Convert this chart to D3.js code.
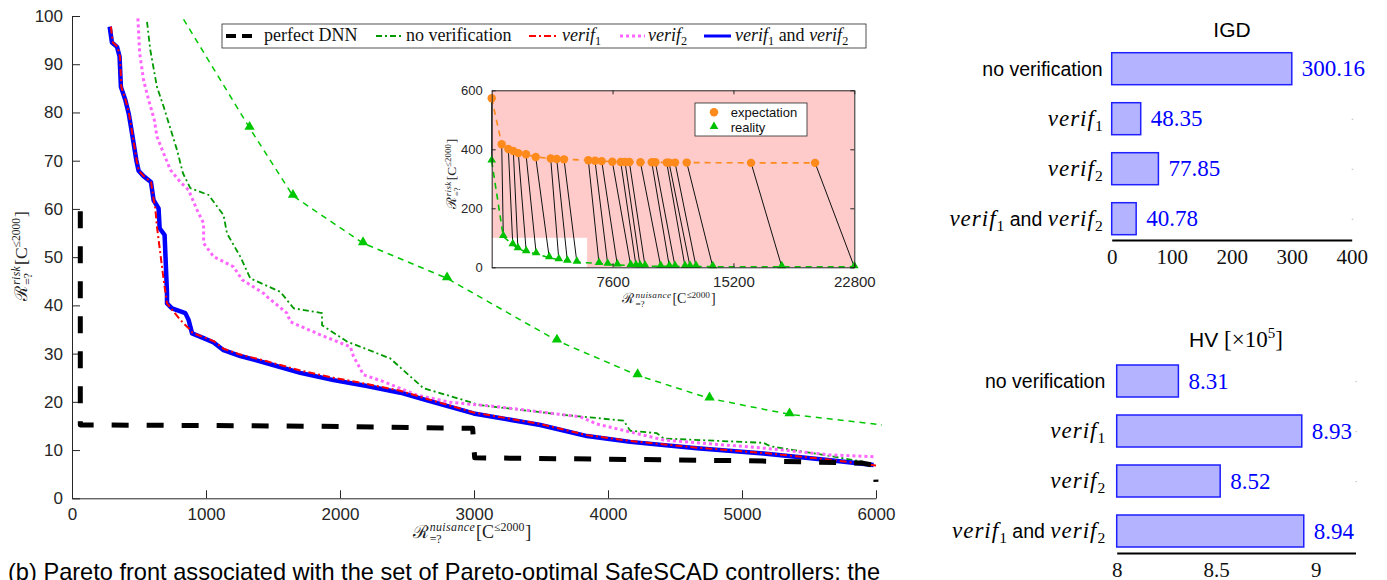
<!DOCTYPE html>
<html>
<head>
<meta charset="utf-8">
<script src="https://cdn.jsdelivr.net/npm/d3@7"></script>
<style>
body { margin: 0; background: #fff; }
</style>
</head>
<body>
<script>
// ---- data ----
const perfectDNN = [[62,59.5],[62,15.2],[1000,15.1],[2000,14.9],[2990,14.5],[3005,8.4],[4000,8.1],[5000,7.8],[5900,7.3],[5990,6.8],[6000,3.4]];
const noVerification = [[560,98.8],[584,93.0],[634,85.3],[684,81.2],[784,72.2],[828,67.4],[883,64.3],[1019,62.9],[1131,58.7],[1157,54.9],[1256,50.1],[1331,45.6],[1555,42.8],[1654,39.4],[1866,38.4],[1866,35.9],[2052,32.5],[2375,29.0],[2624,22.8],[2823,21.2],[3047,19.3],[3669,17.3],[4117,16.1],[4166,14.0],[4365,13.5],[4415,12.4],[5161,11.5],[5211,10.8],[5609,9.0],[5900,7.6]];
const verif1 = [[290,97.8],[305,94.5],[340,93.6],[358,91.6],[368,85.3],[400,82.6],[425,79.8],[442,77.0],[462,73.6],[482,70.1],[499,67.9],[536,66.8],[590,65.6],[609,62.0],[621,60.3],[634,56.3],[684,45.3],[709,40.4],[808,37.0],[883,34.9],[900,34.3],[982,33.4],[1057,32.6],[1131,31.0],[1256,29.8],[1455,28.4],[1704,26.5],[1952,25.0],[2201,23.7],[2450,22.3],[2650,20.6],[2997,17.8],[3495,15.4],[3843,13.1],[4166,11.9],[4664,10.5],[5161,9.4],[5659,8.0],[6000,6.8]];
const verif2 = [[492,99.5],[505,92.3],[534,86.7],[572,82.6],[614,78.5],[634,75.0],[684,71.5],[734,68.1],[808,65.6],[870,63.9],[933,59.8],[982,57.0],[982,52.9],[1057,50.1],[1206,48.0],[1270,45.3],[1430,42.5],[1455,41.8],[1604,38.4],[1629,36.6],[1853,33.9],[2077,31.4],[2101,29.4],[2176,25.6],[2325,24.2],[2574,21.4],[2823,19.9],[3172,19.0],[3793,16.9],[3918,15.4],[4415,12.1],[5161,10.4],[5659,9.0],[6000,8.6]];
const verifBoth = [[281,97.8],[298,94.5],[336,93.6],[355,91.6],[365,85.3],[398,82.6],[423,79.8],[440,77.0],[460,73.6],[480,70.1],[497,67.9],[534,66.8],[589,65.6],[609,61.8],[646,60.1],[654,56.0],[691,54.6],[709,42.5],[709,40.4],[746,39.4],[846,38.4],[870,37.0],[896,34.2],[982,33.2],[1057,32.3],[1131,30.7],[1256,29.5],[1455,28.0],[1704,26.0],[1952,24.5],[2201,23.3],[2450,21.9],[2650,20.3],[2997,17.6],[3495,15.2],[3843,12.9],[4166,11.7],[4664,10.4],[5161,9.3],[5659,7.9],[5982,6.9]];

const expectation = [[0,573],[629,417],[1046,401],[1359,394],[1675,387],[2157,383],[2767,374],[3711,369],[4088,367],[4547,366],[6075,363],[6497,361],[6918,360],[7585,358],[8113,357],[8384,357],[8654,357],[9350,356],[10063,356],[10290,356],[11006,355],[11150,355],[11528,355],[12264,355],[16308,354],[20333,354]];
const reality = [[0,360],[730,104],[1325,76.8],[1649,62.7],[2172,52.9],[2799,45.6],[3619,32.7],[4221,25.5],[4758,20.7],[5355,17.4],[6748,13],[7296,10],[7900,8],[8742,6],[9075,5],[9330,4.5],[9642,4],[10629,3],[11170,3],[11528,3],[12157,2.5],[12472,2.5],[12849,2.5],[13899,2],[18239,2],[22800,1.5]];

const categories = ["no verification", "verif1", "verif2", "verif1 and verif2"];
const igdValues = [300.16, 48.35, 77.85, 40.78];
const hvValues = [8.31, 8.93, 8.52, 8.94];

const mainXTicks = [0, 1000, 2000, 3000, 4000, 5000, 6000];
const mainYTicks = [0, 10, 20, 30, 40, 50, 60, 70, 80, 90, 100];
const insetXTicks = [7600, 15200, 22800];
const insetYTicks = [0, 200, 400, 600];
const igdTicks = [0, 100, 200, 300, 400];
const hvTicks = [8, 8.5, 9];

const caption = "(b) Pareto front associated with the set of Pareto-optimal SafeSCAD controllers; the";

// ---- canvas ----
const svg = d3.select("body").append("svg")
    .attr("width", 1387)
    .attr("height", 580)
    .attr("font-family", "Liberation Sans, Arial, sans-serif");

const axisColor = "#262626";
const plain = d => String(d);

// math label like R^{sup}_{=?}[C^{<=2000}]
function mathLabel(parent, size, sup, cx, cy, rot) {
    const g = parent.append("g");
    const small = size * 0.66;
    let x = 0;
    const r = g.append("text").attr("x", 0).attr("y", 0)
        .attr("font-family", "DejaVu Serif").attr("font-size", size).text("\u211B");
    x += r.node().getComputedTextLength() + 1;
    const a = g.append("text").attr("x", x).attr("y", -size * 0.38)
        .attr("font-family", "Liberation Serif").attr("font-style", "italic")
        .attr("letter-spacing", 0.4)
        .attr("font-size", small).text(sup);
    const b = g.append("text").attr("x", x).attr("y", size * 0.3)
        .attr("font-family", "Liberation Serif").attr("font-size", small).text("=?");
    x += Math.max(a.node().getComputedTextLength(), b.node().getComputedTextLength()) + 1;
    const c = g.append("text").attr("x", x).attr("y", 0)
        .attr("font-family", "Liberation Serif").attr("font-size", size).text("[C");
    x += c.node().getComputedTextLength();
    const d = g.append("text").attr("x", x).attr("y", -size * 0.38)
        .attr("font-family", "Liberation Serif").attr("font-size", small).text("\u22642000");
    x += d.node().getComputedTextLength() + 1;
    const e = g.append("text").attr("x", x).attr("y", 0)
        .attr("font-family", "Liberation Serif").attr("font-size", size).text("]");
    x += e.node().getComputedTextLength();
    g.selectAll("text").attr("fill", "#222");
    g.attr("transform", "translate(" + cx + "," + cy + ") rotate(" + rot + ") translate(" + (-x / 2) + ",0)");
}

// ================= main chart =================
const mainX = d3.scaleLinear().domain([0, 6000]).range([72, 876]);
const mainY = d3.scaleLinear().domain([0, 100]).range([498.3, 16]);

svg.append("clipPath").attr("id", "mainClip")
  .append("rect").attr("x", 60).attr("y", 16).attr("width", 822).attr("height", 483);

const xAxisMain = svg.append("g")
    .attr("transform", "translate(0," + mainY(0) + ")")
    .call(d3.axisBottom(mainX).tickValues(mainXTicks).tickFormat(plain).tickSize(-8).tickSizeOuter(0).tickPadding(10));
const yAxisMain = svg.append("g")
    .attr("transform", "translate(" + mainX(0) + ",0)")
    .call(d3.axisLeft(mainY).tickValues(mainYTicks).tickFormat(plain).tickSize(-8).tickSizeOuter(0).tickPadding(9));
[xAxisMain, yAxisMain].forEach(a => {
    a.attr("font-size", 17).attr("font-family", "Liberation Sans");
    a.selectAll("path, line").attr("stroke", axisColor);
    a.selectAll("text").attr("fill", axisColor);
});

const line = d3.line().x(d => mainX(d[0])).y(d => mainY(d[1]));
const plot = svg.append("g").attr("clip-path", "url(#mainClip)");

const seriesStyles = [
    {name: "reality", data: reality, color: "#00c800", width: 1.5, dash: "6,5"},
    {name: "no verification", data: noVerification, color: "#009a00", width: 1.8, dash: "6,3,2,3"},
    {name: "verif2", data: verif2, color: "#ff66ff", width: 3, dash: "3,3"},
    {name: "verif1 and verif2", data: verifBoth, color: "#0000ff", width: 4.5, dash: null},
    {name: "verif1", data: verif1, color: "#ff0000", width: 2, dash: "7,3,2,3"},
    {name: "perfect DNN", data: perfectDNN, color: "#000000", width: 5, dash: "17,18"}
];

seriesStyles.forEach(s => {
    plot.append("path").datum(s.data)
        .attr("fill", "none")
        .attr("stroke", s.color)
        .attr("stroke-width", s.width)
        .attr("stroke-dasharray", s.dash)
        .attr("stroke-linejoin", "round")
        .attr("d", line);
});

// triangles of the "reality" curve inside the main range
plot.selectAll(".tri").data(reality.filter(d => d[0] <= 6000 && d[1] <= 100))
  .enter().append("path")
    .attr("transform", d => "translate(" + mainX(d[0]) + "," + (mainY(d[1]) - 1) + ")")
    .attr("d", d3.symbol(d3.symbolTriangle, 46))
    .attr("fill", "#00c800");

// axis labels
mathLabel(svg, 18, "nuisance", 472, 538, 0);
mathLabel(svg, 17.5, "risk", 27, 256, -90);

// legend
const legend = svg.append("g");
legend.append("rect").attr("x", 222).attr("y", 24).attr("width", 644).attr("height", 24)
    .attr("fill", "#fff").attr("stroke", axisColor).attr("stroke-width", 0.8);

const legendItems = [
    {style: seriesStyles[5], x0: 226, x1: 252, tx: 264, dash: "10,6", width: 4},
    {style: seriesStyles[1], x0: 376, x1: 404, tx: 406},
    {style: seriesStyles[4], x0: 529, x1: 557, tx: 562},
    {style: seriesStyles[2], x0: 620, x1: 645, tx: 648},
    {style: seriesStyles[3], x0: 704, x1: 731, tx: 735, width: 3}
];

// writes "verif1 and verif2" style names with italic and subscripts
function richName(text, name, opts) {
    const parts = name.split(" and ");
    const sub = opts.sub;
    let shifted = false;
    parts.forEach((p, i) => {
        if (i > 0) {
            text.append("tspan").attr("font-family", opts.andFont).attr("font-style", "normal")
                .attr("font-size", opts.andSize || opts.size)
                .attr("dy", shifted ? -sub : 0).text(" and ");
            shifted = false;
        }
        const m = p.match(/^verif(\d)$/);
        if (m) {
            text.append("tspan").attr("font-family", "Liberation Serif").attr("font-style", "italic")
                .attr("font-size", opts.size).attr("letter-spacing", opts.spacing || 0)
                .attr("dy", shifted ? -sub : 0).text("verif");
            text.append("tspan").attr("font-family", "Liberation Serif").attr("font-style", "normal")
                .attr("font-size", opts.size * 0.68).attr("dy", sub).text(m[1]);
            shifted = true;
        } else {
            text.append("tspan").attr("font-family", opts.plainFont).attr("font-size", opts.plainSize || opts.size).text(p);
        }
    });
}

legendItems.forEach(it => {
    legend.append("line")
        .attr("x1", it.x0).attr("x2", it.x1).attr("y1", 36).attr("y2", 36)
        .attr("stroke", it.style.color)
        .attr("stroke-width", it.width || it.style.width)
        .attr("stroke-dasharray", it.dash || it.style.dash);
    const t = legend.append("text").attr("x", it.tx).attr("y", 41).attr("fill", "#111");
    richName(t, it.style.name, {size: 18, sub: 4, andFont: "Liberation Serif", plainFont: "Liberation Serif"});
});

// ================= inset =================
const insetX = d3.scaleLinear().domain([0, 22800]).range([491.7, 854.3]);
const insetY = d3.scaleLinear().domain([0, 600]).range([267.3, 90.3]);
const inset = svg.append("g");

inset.append("rect")
    .attr("x", insetX(0)).attr("y", insetY(600))
    .attr("width", insetX(22800) - insetX(0)).attr("height", insetY(0) - insetY(600))
    .attr("fill", "#ffcaca");
inset.append("rect")
    .attr("x", insetX(0)).attr("y", insetY(100))
    .attr("width", insetX(6000) - insetX(0)).attr("height", insetY(0) - insetY(100))
    .attr("fill", "#fff");

// links expectation -> reality
inset.selectAll(".link").data(expectation)
  .enter().append("line")
    .attr("x1", d => insetX(d[0])).attr("y1", d => insetY(d[1]))
    .attr("x2", (d, i) => insetX(reality[i][0])).attr("y2", (d, i) => insetY(reality[i][1]))
    .attr("stroke", "#111").attr("stroke-width", 1);

const insetLine = d3.line().x(d => insetX(d[0])).y(d => insetY(d[1]));
inset.append("path").datum(expectation)
    .attr("fill", "none").attr("stroke", "#ff8a1c").attr("stroke-width", 1.6)
    .attr("stroke-dasharray", "6,5").attr("d", insetLine);
inset.append("path").datum(reality)
    .attr("fill", "none").attr("stroke", "#00c000").attr("stroke-width", 1.6)
    .attr("stroke-dasharray", "6,5").attr("d", insetLine);

inset.selectAll(".dot").data(expectation)
  .enter().append("circle")
    .attr("cx", d => insetX(d[0])).attr("cy", d => insetY(d[1])).attr("r", 4.2)
    .attr("fill", "#ff8a1c");
inset.selectAll(".rtri").data(reality)
  .enter().append("path")
    .attr("transform", d => "translate(" + insetX(d[0]) + "," + (insetY(d[1]) - 1) + ")")
    .attr("d", d3.symbol(d3.symbolTriangle, 32))
    .attr("fill", "#00c000");

// inset frame and ticks
const ixb = inset.append("g").attr("transform", "translate(0," + insetY(0) + ")")
    .call(d3.axisBottom(insetX).tickValues(insetXTicks).tickFormat(plain).tickSize(-4).tickSizeOuter(0).tickPadding(9));
const ixt = inset.append("g").attr("transform", "translate(0," + insetY(600) + ")")
    .call(d3.axisTop(insetX).tickValues(insetXTicks).tickSize(-4).tickSizeOuter(0).tickFormat(""));
const iyl = inset.append("g").attr("transform", "translate(" + insetX(0) + ",0)")
    .call(d3.axisLeft(insetY).tickValues(insetYTicks).tickFormat(plain).tickSize(-4).tickSizeOuter(0).tickPadding(9));
const iyr = inset.append("g").attr("transform", "translate(" + insetX(22800) + ",0)")
    .call(d3.axisRight(insetY).tickValues(insetYTicks).tickSize(-4).tickSizeOuter(0).tickFormat(""));
[ixb, ixt, iyl, iyr].forEach(a => {
    a.attr("font-family", "Liberation Sans");
    a.selectAll("path, line").attr("stroke", axisColor);
    a.selectAll("text").attr("fill", axisColor);
});
ixb.attr("font-size", 15);
iyl.attr("font-size", 13);

mathLabel(inset, 14, "nuisance", 669, 303, 0);
mathLabel(inset, 13.5, "risk", 456, 174, -90);

// inset legend
inset.append("rect").attr("x", 695).attr("y", 103).attr("width", 112).attr("height", 33)
    .attr("fill", "#fff").attr("stroke", axisColor).attr("stroke-width", 0.8);
inset.append("circle").attr("cx", 714).attr("cy", 112.3).attr("r", 4.2).attr("fill", "#ff8a1c");
inset.append("path").attr("transform", "translate(714,126.5)")
    .attr("d", d3.symbol(d3.symbolTriangle, 32)).attr("fill", "#00c000");
inset.append("text").attr("x", 730.7).attr("y", 116.8).attr("font-size", 13).attr("fill", "#111").text("expectation");
inset.append("text").attr("x", 730.7).attr("y", 131.8).attr("font-size", 13).attr("fill", "#111").text("reality");

// ================= bar charts =================
function barChart(values, xScale, bandRange, axisY, ticks, labelRight, title) {
    const g = svg.append("g");
    const y = d3.scaleBand().domain(categories).range(bandRange).paddingInner(0.36).paddingOuter(0.18);
    const x0 = xScale.domain()[0];

    g.selectAll(".bar").data(values)
      .enter().append("rect")
        .attr("x", xScale(x0))
        .attr("y", (d, i) => y(categories[i]))
        .attr("width", d => xScale(d) - xScale(x0))
        .attr("height", y.bandwidth())
        .attr("fill", "#b3b3ff")
        .attr("stroke", "#1f1fff")
        .attr("stroke-width", 1.5);

    g.selectAll(".val").data(values)
      .enter().append("text")
        .attr("x", d => xScale(d) + 10)
        .attr("y", (d, i) => y(categories[i]) + y.bandwidth() / 2 + 7.5)
        .attr("font-family", "Liberation Serif")
        .attr("font-size", 23)
        .attr("fill", "#0000ff")
        .text(d => d.toFixed(2));

    categories.forEach((c, i) => {
        const t = g.append("text")
            .attr("x", labelRight)
            .attr("y", y(c) + y.bandwidth() / 2 + 7)
            .attr("text-anchor", "end")
            .attr("fill", "#000");
        richName(t, c, {size: 23, sub: 5, spacing: 1, andFont: "Liberation Sans", andSize: 19.5,
                        plainFont: "Liberation Sans", plainSize: 19.5});
    });

    // faint right-side tick marks
    categories.slice(0, 3).forEach((c, i) => {
        g.append("rect")
            .attr("x", xScale.range()[1])
            .attr("y", y(categories[i + (title === "IGD" ? 1 : 0)]) + y.bandwidth() / 2)
            .attr("width", 1.5).attr("height", 1.2).attr("fill", "#c8c8c8");
    });

    const ax = g.append("g").attr("transform", "translate(0," + axisY + ")")
        .call(d3.axisBottom(xScale).tickValues(ticks).tickFormat(plain).tickSize(0).tickPadding(9));
    ax.select(".domain").attr("stroke", "#000").attr("stroke-width", 2.2);
    ax.attr("font-family", "Liberation Serif").attr("font-size", 21);
    ax.selectAll("text").attr("fill", "#111");
    return g;
}

const igdX = d3.scaleLinear().domain([0, 400]).range([1111.7, 1351.7]);
barChart(igdValues, igdX, [43.7, 243.7], 240, igdTicks, 1102.7, "IGD");
svg.append("text").attr("x", 1232).attr("y", 36.7).attr("text-anchor", "middle")
    .attr("font-size", 21).attr("fill", "#000").text("IGD");

const hvX = d3.scaleLinear().domain([8, 9.2]).range([1116.7, 1355.5]);
barChart(hvValues, hvX, [356, 556], 553, hvTicks, 1105.3, "HV");
const hvTitle = svg.append("text").attr("x", 1236).attr("y", 347).attr("text-anchor", "middle").attr("fill", "#000");
hvTitle.append("tspan").attr("font-size", 21).text("HV ");
hvTitle.append("tspan").attr("font-family", "Liberation Serif").attr("font-size", 23).text("[\u00D710");
hvTitle.append("tspan").attr("font-family", "Liberation Serif").attr("font-size", 15).attr("dy", -9).text("5");
hvTitle.append("tspan").attr("font-family", "Liberation Serif").attr("font-size", 23).attr("dy", 9).text("]");

// caption
svg.append("text").attr("x", 8).attr("y", 580)
    .attr("font-size", 23.6).attr("fill", "#000")
    .text(caption);
</script>
</body>
</html>
